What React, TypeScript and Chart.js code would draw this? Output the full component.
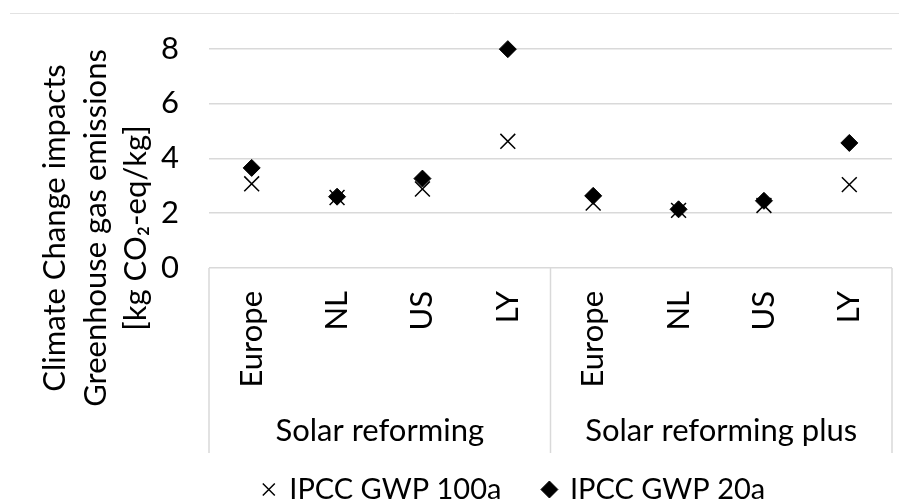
import React, { useEffect, useRef } from 'react';
import { Chart, registerables } from 'chart.js';

Chart.register(...registerables);

// ---- data ----
const categories = ['Europe', 'NL', 'US', 'LY', 'Europe', 'NL', 'US', 'LY'];
const groups = ['Solar reforming', 'Solar reforming plus'];
const groupSize = 4;
const seriesNames = ['IPCC GWP 100a', 'IPCC GWP 20a'];
const gwp100a = [3.07, 2.57, 2.88, 4.62, 2.37, 2.1, 2.28, 3.04];
const gwp20a = [3.65, 2.6, 3.26, 7.98, 2.63, 2.14, 2.45, 4.56];
const yTitleLines = ['Climate Change impacts', 'Greenhouse gas emissions', '[kg CO\u2082-eq/kg]'];
const yMin = 0;
const yMax = 8;
const yStep = 2;

const FONT = 'Lato, "Noto Sans", sans-serif';
const FS = 31;
const LEGEND_FS = 29;
const LEGEND_PAD = 42;
const GRID = '#d9d9d9';

const decor = {
  id: 'decor',
  afterLayout(chart: any) {
    const lg = chart.legend;
    if (lg) {
      lg.top += 11;
      lg.bottom += 11;
    }
  },
  afterDraw(chart: any) {
    const ctx = chart.ctx as CanvasRenderingContext2D;
    const xs = chart.scales.x;
    const ys = chart.scales.y;
    ctx.save();
    // outer frame top edge
    ctx.strokeStyle = '#e2e2e2';
    ctx.lineWidth = 1;
    ctx.beginPath();
    ctx.moveTo(10, 13.5);
    ctx.lineTo(chart.width, 13.5);
    ctx.stroke();

    // category group box
    const y0 = ys.getPixelForValue(0);
    const yBottom = y0 + 185;
    const half = (xs.getPixelForValue(1) - xs.getPixelForValue(0)) / 2;
    const bounds: number[] = [];
    for (let g = 0; g <= groups.length; g++) {
      if (g === 0) bounds.push(xs.left);
      else if (g === groups.length) bounds.push(xs.right);
      else bounds.push(xs.getPixelForValue(g * groupSize) - half);
    }
    ctx.strokeStyle = GRID;
    ctx.lineWidth = 1.5;
    bounds.forEach((bx) => {
      ctx.beginPath();
      ctx.moveTo(bx, y0);
      ctx.lineTo(bx, yBottom);
      ctx.stroke();
    });

    // group labels
    ctx.fillStyle = '#000';
    ctx.font = `${FS}px ${FONT}`;
    ctx.textAlign = 'center';
    ctx.textBaseline = 'alphabetic';
    groups.forEach((g, i) => {
      const cx = (bounds[i] + bounds[i + 1]) / 2;
      ctx.fillText(g, cx, 441);
    });

    // y axis title (3 lines, rotated)
    const cy = 228;
    const baseX = [65, 106, 146];
    yTitleLines.forEach((line, i) => {
      ctx.save();
      ctx.translate(baseX[i], cy);
      ctx.rotate(-Math.PI / 2);
      ctx.textAlign = 'center';
      ctx.textBaseline = 'alphabetic';
      ctx.fillText(line, 0, 0);
      ctx.restore();
    });
    ctx.restore();
  },
};

export default function App() {
  const ref = useRef<HTMLCanvasElement | null>(null);

  useEffect(() => {
    if (!ref.current) return;
    const chart = new Chart(ref.current, {
      type: 'line',
      data: {
        labels: categories,
        datasets: [
          {
            label: seriesNames[0],
            data: gwp100a,
            showLine: false,
            clip: false,
            pointStyle: 'crossRot',
            pointRadius: 10.5,
            pointBorderWidth: 1.5,
            borderColor: '#000',
            backgroundColor: '#000',
            pointBorderColor: '#000',
            pointBackgroundColor: '#000',
          },
          {
            label: seriesNames[1],
            data: gwp20a,
            showLine: false,
            clip: false,
            pointStyle: 'rectRot',
            pointRadius: 8.5,
            pointBorderWidth: 1,
            borderColor: '#000',
            backgroundColor: '#000',
            pointBorderColor: '#000',
            pointBackgroundColor: '#000',
          },
        ],
      },
      options: {
        responsive: false,
        animation: false,
        devicePixelRatio: 1,
        layout: { autoPadding: false, padding: { top: 43, left: 136, right: 7, bottom: 0 } },
        plugins: {
          tooltip: { enabled: false },
          legend: {
            position: 'bottom',
            labels: {
              usePointStyle: true,
              boxWidth: 12,
              boxHeight: 12,
              padding: LEGEND_PAD,
              color: '#000',
              font: { family: FONT, size: LEGEND_FS },
            },
          },
        },
        scales: {
          x: {
            type: 'category',
            offset: true,
            grid: { display: false, drawTicks: false },
            border: { display: false },
            ticks: {
              autoSkip: false,
              minRotation: 90,
              maxRotation: 90,
              padding: 23,
              color: '#000',
              font: { family: FONT, size: FS },
            },
            afterFit: (s: any) => {
              s.height = 503 - 43 - 225 - (LEGEND_FS + LEGEND_PAD + 10);
              s.paddingLeft = 0;
              s.paddingRight = 0;
            },
          },
          y: {
            min: yMin,
            max: yMax,
            grid: { color: GRID, lineWidth: 1.5, drawTicks: false },
            border: { display: false },
            ticks: {
              stepSize: yStep,
              padding: 30,
              color: '#000',
              font: { family: FONT, size: FS },
            },
            afterFit: (s: any) => {
              s.width = 73;
            },
          },
        },
      },
      plugins: [decor],
    });
    return () => chart.destroy();
  }, []);

  return (
    <div style={{ position: 'fixed', left: 0, top: 0, width: 899, height: 503, background: '#fff' }}>
      <canvas ref={ref} width={899} height={503} style={{ display: 'block' }} />
    </div>
  );
}
